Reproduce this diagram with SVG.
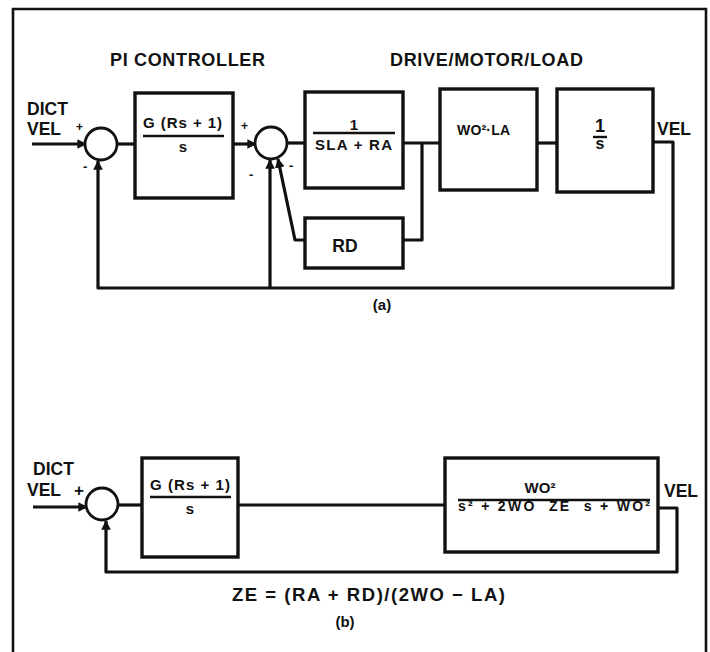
<svg xmlns="http://www.w3.org/2000/svg" width="710" height="652" viewBox="0 0 710 652">
<style>
text{font-family:"Liberation Sans",Arial,sans-serif;font-weight:bold;fill:#111;white-space:pre}
.box{fill:none;stroke:#111;stroke-width:3.4}
.sum{fill:#fff;stroke:#111;stroke-width:2.8}
.w{fill:none;stroke:#111;stroke-width:3.2;stroke-linejoin:round}
.h{font-size:18px}
.lab{font-size:17.5px}
.f{font-size:15px}
.bar{stroke:#111;stroke-width:2.4}
</style>
<defs>
<marker id="ar" viewBox="0 0 10 10" refX="9" refY="5" markerWidth="3" markerHeight="3" orient="auto">
<path d="M0,0L10,5L0,10z" fill="#111"/>
</marker>
</defs>
<rect width="710" height="652" fill="#fff"/>
<path d="M13,660V9H706V660" fill="none" stroke="#111" stroke-width="2.6"/>

<text class="h" x="110" y="66" textLength="155" lengthAdjust="spacing">PI CONTROLLER</text>
<text class="h" x="390" y="66" textLength="193" lengthAdjust="spacing">DRIVE/MOTOR/LOAD</text>
<text class="lab" x="27" y="115">DICT</text>
<text class="lab" x="27" y="135">VEL</text>

<g id="connectors">
<path class="w" d="M32,144H86" marker-end="url(#ar)"/>
<path class="w" d="M117,144H135"/>
<path class="w" d="M233,144H256" marker-end="url(#ar)"/>
<path class="w" d="M287,143H305"/>
<path class="w" d="M403,143H440"/>
<path class="w" d="M537,143H557"/>
<path class="w" d="M653,142H673V288H98V161" marker-end="url(#ar)"/>
<path class="w" d="M270,288V160" marker-end="url(#ar)"/>
<path class="w" d="M422,143V240H403"/>
<path class="w" d="M305,240H295L278,159" marker-end="url(#ar)"/>
<path class="w" d="M33,507H87" marker-end="url(#ar)"/>
<path class="w" d="M118,505H142"/>
<path class="w" d="M238,505H445"/>
<path class="w" d="M658,508H677V572H106V521" marker-end="url(#ar)"/>
</g>

<g id="sum1"><circle class="sum" cx="101" cy="144" r="16"/>
<text x="76" y="131" style="font-size:12px">+</text><text x="83" y="171" style="font-size:13px">-</text></g>
<g id="pi"><rect class="box" x="135" y="93" width="98" height="105"/>
<text class="f" x="143" y="128" textLength="79" lengthAdjust="spacing">G (Rs + 1)</text>
<line class="bar" x1="143" y1="136" x2="224" y2="136"/>
<text class="f" x="183" y="152" text-anchor="middle">s</text></g>
<g id="sum2"><circle class="sum" cx="271" cy="143" r="16"/>
<text x="241" y="130" style="font-size:12px">+</text><text x="249" y="179" style="font-size:13px">-</text><text x="289" y="170" style="font-size:13px">-</text></g>
<g id="elec"><rect class="box" x="305" y="92" width="98" height="96"/>
<text class="f" x="354" y="130" text-anchor="middle">1</text>
<line class="bar" x1="313" y1="133" x2="395" y2="133"/>
<text class="f" x="315" y="150" textLength="77" lengthAdjust="spacing">SLA + RA</text></g>
<g id="rd"><rect class="box" x="305" y="218" width="98" height="50"/>
<text class="lab" x="345" y="252" text-anchor="middle">RD</text></g>
<g id="mech"><rect class="box" x="440" y="89" width="97" height="101"/>
<text x="457" y="135" textLength="53" lengthAdjust="spacing" style="font-size:14px">WO²·LA</text></g>
<g id="integ"><rect class="box" x="557" y="89" width="96" height="103"/>
<text x="600" y="132" text-anchor="middle" style="font-size:18px">1</text>
<line class="bar" x1="593" y1="137" x2="607" y2="137"/>
<text x="600" y="149" text-anchor="middle" style="font-size:16px">s</text></g>
<text class="lab" x="657" y="135">VEL</text>
<text x="382" y="310" text-anchor="middle" style="font-size:15px">(a)</text>

<text class="lab" x="33" y="475">DICT</text>
<text class="lab" x="27" y="496">VEL</text>
<text x="74" y="496" style="font-size:17px">+</text>
<g id="sumb"><circle class="sum" cx="102" cy="504" r="16"/></g>
<g id="pib"><rect class="box" x="142" y="458" width="96" height="99"/>
<text class="f" x="150" y="490" textLength="80" lengthAdjust="spacing">G (Rs + 1)</text>
<line class="bar" x1="150" y1="497" x2="231" y2="497"/>
<text class="f" x="190" y="514" text-anchor="middle">s</text></g>
<g id="plant"><rect class="box" x="445" y="458" width="213" height="94"/>
<text class="f" x="540" y="493" text-anchor="middle">WO²</text>
<line class="bar" x1="458" y1="500" x2="650" y2="500"/>
<text x="458" y="511" textLength="192" lengthAdjust="spacing" style="font-size:14px">s² + 2WO  ZE  s + WO²</text></g>
<text class="lab" x="664" y="497">VEL</text>
<text x="232" y="601" textLength="273" lengthAdjust="spacing" style="font-size:18.5px">ZE = (RA + RD)/(2WO − LA)</text>
<text x="345" y="627" text-anchor="middle" style="font-size:15px">(b)</text>
</svg>
